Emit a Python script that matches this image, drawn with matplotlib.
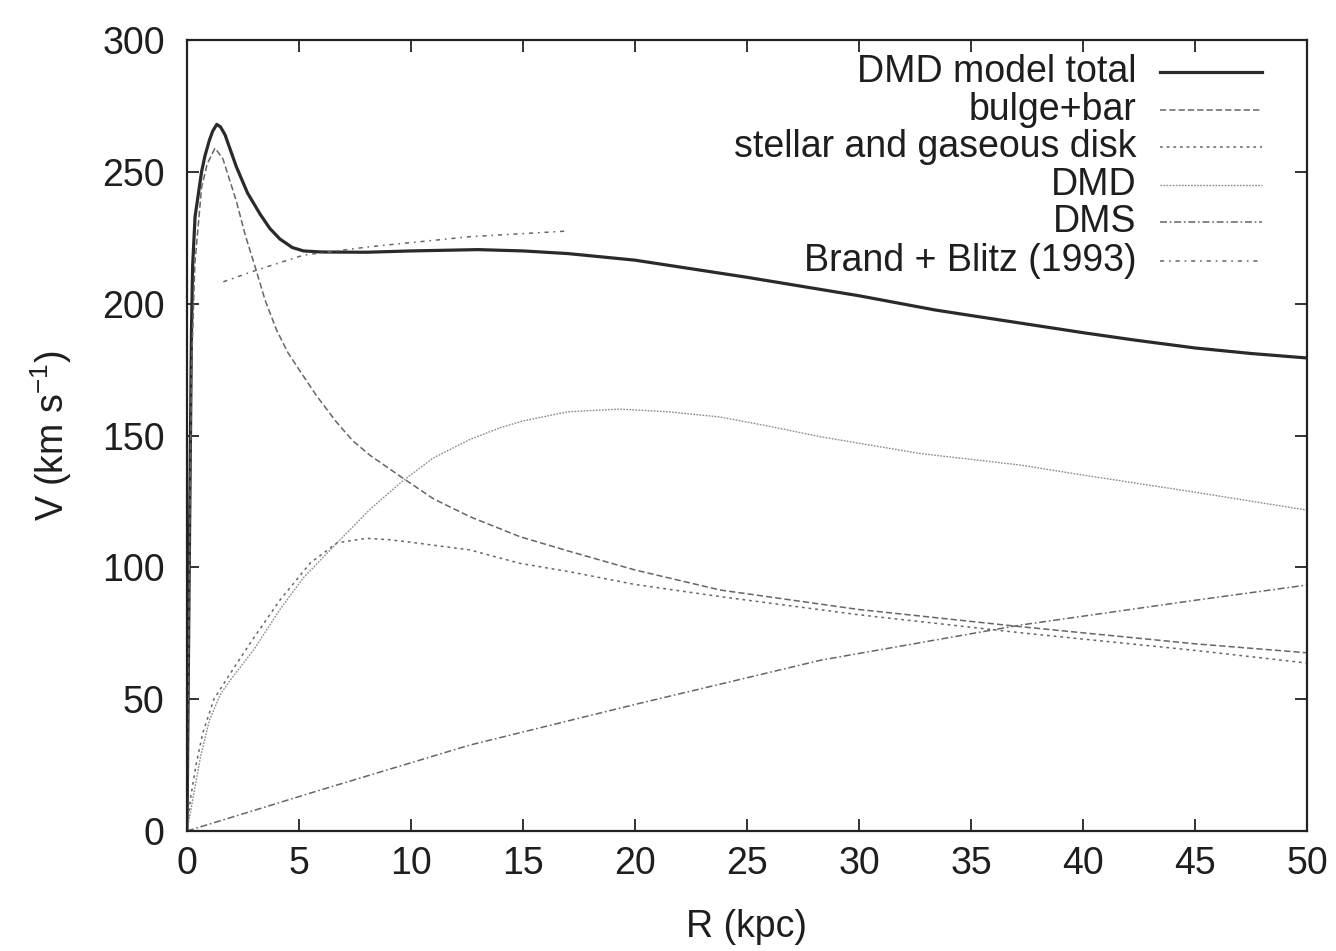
import matplotlib
matplotlib.use("Agg")
import matplotlib.pyplot as plt

# Rotation curve components, R in kpc, V in km/s
r_total = [0, 0.1, 0.2, 0.25, 0.36, 0.65, 0.8, 1.0, 1.15, 1.33, 1.5, 1.7,
           1.95, 2.2, 2.7, 3.26, 3.7, 4.15, 4.7, 5.2, 6, 8, 10, 13, 15, 17,
           20, 25, 30, 33.4, 35, 40, 42.3, 45, 47.5, 50]
v_total = [0, 100, 190, 214, 233, 250, 256, 262, 265.5, 268, 267, 264,
           258, 252, 242, 234, 228.5, 224.5, 221.3, 220, 219.6, 219.5, 220,
           220.5, 220, 219, 216.5, 210, 203, 197.6, 195.5, 189, 186.2, 183.2,
           181.1, 179.4]

r_bulge = [0, 0.1, 0.2, 0.35, 0.65, 0.9, 1.25, 1.6, 2.2, 2.6, 3.04, 3.5,
           4.0, 4.5, 5.04, 5.79, 6.68, 7.4, 8.17, 9.66, 11, 12.63, 14.87,
           17.1, 20, 23.8, 30, 37.2, 45, 50]
v_bulge = [0, 95, 175, 215, 244, 253, 259, 255, 239, 226, 214, 201, 190,
           181.5, 174.5, 165, 155, 148, 142.5, 133.7, 126, 119.2, 111.6, 106,
           99, 91.4, 84, 77.5, 71, 67.6]

r_disk = [0, 0.15, 0.4, 0.7, 1.2, 1.8, 2.8, 4.15, 5.5, 6.7, 8.0, 9.0, 10,
          12.63, 14.87, 17.1, 20, 23.8, 30, 37.2, 45, 50]
v_disk = [0, 12, 25, 37, 50, 58, 71, 87.6, 101.6, 109.3, 111, 110.5, 109.5,
          106.6, 101.5, 98.3, 93.5, 88.9, 82, 75.2, 68.5, 63.7]

r_dmd = [0, 0.3, 0.6, 1.0, 1.5, 2.0, 3.0, 4.15, 5.19, 6.68, 8.17, 9.66, 11,
         12.63, 14, 15, 17, 19.3, 21.5, 23.8, 26, 28.3, 32.7, 37.2, 40, 45,
         50]
v_dmd = [0, 14, 28, 42, 52, 58, 69, 84, 96, 109.1, 122, 133, 141.5, 148.5,
         153, 155.5, 159, 160, 159, 157, 153.5, 149.5, 143.2, 138.8, 135,
         128.5, 121.7]

r_dms = [0, 5.94, 12.63, 20, 28.3, 37.2, 45, 50]
v_dms = [0, 15.5, 32.6, 48, 64.8, 78.1, 87.5, 93.3]

r_bb = [1.62, 3.1, 5.2, 8.17, 12.63, 16.9]
v_bb = [208.3, 212.7, 218.4, 221.6, 225.4, 227.5]

labels = ["DMD model total", "bulge+bar", "stellar and gaseous disk",
          "DMD", "DMS", "Brand + Blitz (1993)"]

plt.rcParams["font.family"] = ["Liberation Sans", "DejaVu Sans"]
plt.rcParams["lines.scale_dashes"] = False

styles = [
    dict(color="#2a2a2a", lw=2.3, ls="-"),
    dict(color="#666666", lw=1.1, ls=(0, (4.5, 2.2))),
    dict(color="#666666", lw=1.1, ls=(0, (2.0, 2.8))),
    dict(color="#8a8a8a", lw=1.0, ls=(0, (1.2, 1.0))),
    dict(color="#666666", lw=1.1, ls=(0, (5.0, 2.0, 1.2, 2.0))),
    dict(color="#666666", lw=1.1, ls=(0, (3.0, 3.5, 1.2, 3.5))),
]
series = [(r_total, v_total), (r_bulge, v_bulge), (r_disk, v_disk),
          (r_dmd, v_dmd), (r_dms, v_dms), (r_bb, v_bb)]

FS = 27
TXT = "#1e1e1e"

fig = plt.figure(figsize=(13.36, 9.51), dpi=100)
ax = fig.add_axes([187 / 1336, 1 - 831 / 951, 1120 / 1336, 791 / 951])

for (r, v), st in zip(series, styles):
    ax.plot(r, v, solid_joinstyle="round", **st)

ax.set_xlim(0, 50)
ax.set_ylim(0, 300)
ax.set_xticks(range(0, 51, 5))
ax.set_yticks(range(0, 301, 50))
ax.tick_params(direction="in", length=8.5, width=1.3, labelsize=FS,
               top=True, right=True, color="#222222", labelcolor=TXT)
ax.tick_params(axis="y", pad=16)
ax.tick_params(axis="x", pad=11)
for sp in ax.spines.values():
    sp.set_linewidth(1.6)
    sp.set_color("#222222")

ax.set_xlabel("R (kpc)", fontsize=FS, labelpad=19, color=TXT)
ax.set_ylabel(r"V (km s$^{\mathregular{-1}}$)", fontsize=FS, labelpad=20,
              color=TXT)

# key: right-aligned text with line samples to its right
rows_y = [0.9595, 0.912, 0.8648, 0.817, 0.770, 0.7206]
for lab, st, yy in zip(labels, styles, rows_y):
    ax.text(0.848, yy, lab, transform=ax.transAxes, ha="right", va="center",
            fontsize=FS, color=TXT)
    ax.plot([0.869, 0.960], [yy, yy], transform=ax.transAxes, **st)

fig.savefig("out.png", dpi=100)
